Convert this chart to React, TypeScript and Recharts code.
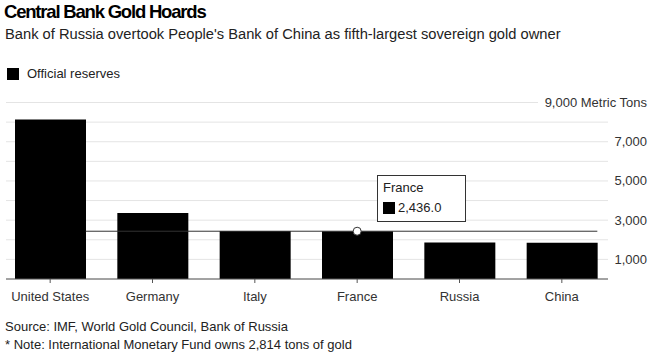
import React from 'react';
import {
    BarChart,
    Bar,
    XAxis,
    YAxis,
    CartesianGrid,
    Tooltip,
    ReferenceLine,
    ReferenceDot,
} from 'recharts';

const countries = ['United States', 'Germany', 'Italy', 'France', 'Russia', 'China'];
const reserves = [8133.5, 3369.7, 2451.8, 2436.0, 1857.0, 1842.6];
const yTicks = [0, 1000, 2000, 3000, 4000, 5000, 6000, 7000, 8000, 9000];
const labeledTicks = [1000, 3000, 5000, 7000, 9000];
const highlighted = 3; // France

const data = countries.map((name, i) => ({ name, reserves: reserves[i] }));

const FONT = '"Liberation Sans", Arial, sans-serif';
const BAR = 71;

// eslint-disable-next-line @typescript-eslint/no-explicit-any
const RightTick = (props: any) => {
    const { y, payload } = props;
    const v = payload.value;
    if (!labeledTicks.includes(v)) return null;
    const label = v.toLocaleString('en-US') + (v === 9000 ? ' Metric Tons' : '');
    return (
        <g>
            {v === 9000 && <rect x={538} y={y - 9} width={118} height={18} fill="#fff" />}
            <text
                x={647}
                y={y}
                dy={4.5}
                textAnchor="end"
                fontSize={13}
                fill="#333"
                fontFamily={FONT}
            >
                {label}
            </text>
        </g>
    );
};

// eslint-disable-next-line @typescript-eslint/no-explicit-any
const TipBox = ({ payload, label }: any) => {
    if (!payload || !payload.length) return null;
    return (
        <div
            style={{
                background: '#fff',
                border: '1px solid #333',
                width: 87,
                height: 45,
                boxSizing: 'content-box',
                fontFamily: FONT,
                fontSize: 13,
                color: '#222',
                padding: 0,
            }}
        >
            <div style={{ position: 'relative', left: 5, top: 4, lineHeight: '15px' }}>{label}</div>
            <div style={{ position: 'relative', left: 5, top: 9, lineHeight: '15px', display: 'flex', alignItems: 'center' }}>
                <span style={{ display: 'inline-block', width: 12, height: 12, background: '#000', marginRight: 3 }} />
                {Number(payload[0].value).toLocaleString('en-US', { minimumFractionDigits: 1 })}
            </div>
        </div>
    );
};

// hover line: between the right edge of the first bar and the right edge of the last one
// eslint-disable-next-line @typescript-eslint/no-explicit-any
const HoverLine = (p: any) => (
    <line x1={p.x1 + BAR / 2} y1={p.y1} x2={p.x2 + BAR / 2} y2={p.y2} stroke="#333" strokeWidth={1} />
);

export default function App() {
    return (
        <div
            style={{
                position: 'absolute',
                left: 0,
                top: 0,
                width: 656,
                height: 353,
                background: '#fff',
                fontFamily: FONT,
                overflow: 'hidden',
            }}
        >
            <div
                style={{
                    position: 'absolute',
                    left: 4,
                    top: 1,
                    fontSize: 18.5,
                    fontWeight: 'bold',
                    letterSpacing: -1.2,
                    color: '#000',
                    whiteSpace: 'nowrap',
                }}
            >
                Central Bank Gold Hoards
            </div>
            <div
                style={{
                    position: 'absolute',
                    left: 5,
                    top: 26,
                    fontSize: 14.7,
                    color: '#222',
                    whiteSpace: 'nowrap',
                }}
            >
                Bank of Russia overtook People's Bank of China as fifth-largest sovereign gold owner
            </div>
            <div style={{ position: 'absolute', left: 7, top: 66, display: 'flex', alignItems: 'center' }}>
                <span style={{ display: 'inline-block', width: 12, height: 12, background: '#000' }} />
                <span style={{ marginLeft: 8, fontSize: 13, color: '#222' }}>Official reserves</span>
            </div>
            <div style={{ position: 'absolute', top: 0, left: 0 }}>
                <BarChart
                    width={656}
                    height={353}
                    data={data}
                    margin={{ top: 102.5, right: 0, left: 6, bottom: 44 }}
                    barSize={BAR}
                >
                    <CartesianGrid horizontal vertical={false} stroke="#e4e4e4" />
                    <XAxis
                        dataKey="name"
                        height={30}
                        padding={{ left: -7, right: -5 }}
                        axisLine={{ stroke: '#555' }}
                        tickLine={{ stroke: '#555' }}
                        tickSize={4}
                        tick={{ fontSize: 13, fill: '#333', fontFamily: FONT, dy: 7 }}
                        interval={0}
                    />
                    <YAxis
                        orientation="right"
                        width={48}
                        domain={[0, 9000]}
                        ticks={yTicks}
                        axisLine={false}
                        tickLine={false}
                        tick={<RightTick />}
                        interval={0}
                    />
                    <Bar dataKey="reserves" fill="#000" isAnimationActive={false} />
                    <ReferenceLine
                        segment={[
                            { x: countries[0], y: reserves[highlighted] },
                            { x: countries[countries.length - 1], y: reserves[highlighted] },
                        ]}
                        stroke="#333"
                        strokeWidth={1}
                        shape={HoverLine}
                    />
                    <ReferenceDot
                        x={countries[highlighted]}
                        y={reserves[highlighted]}
                        r={4}
                        fill="#fff"
                        stroke="#333"
                        strokeWidth={1}
                    />
                    <Tooltip
                        defaultIndex={highlighted}
                        active
                        cursor={false}
                        isAnimationActive={false}
                        position={{ x: 377, y: 175 }}
                        content={<TipBox />}
                    />
                </BarChart>
            </div>
            <div style={{ position: 'absolute', left: 5, top: 319, fontSize: 13, color: '#222', whiteSpace: 'nowrap' }}>
                Source: IMF, World Gold Council, Bank of Russia
            </div>
            <div style={{ position: 'absolute', left: 5, top: 337, fontSize: 13, color: '#222', whiteSpace: 'nowrap' }}>
                * Note: International Monetary Fund owns 2,814 tons of gold
            </div>
        </div>
    );
}
